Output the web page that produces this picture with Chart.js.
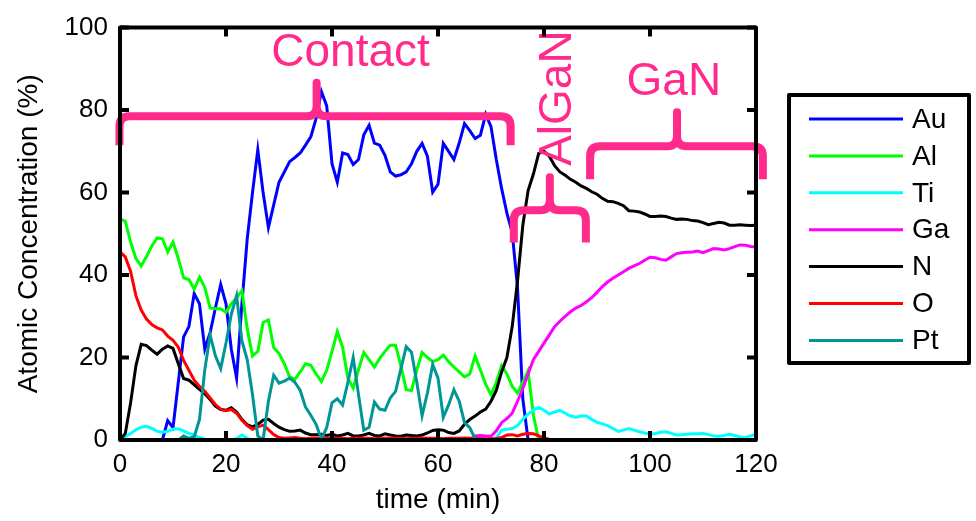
<!DOCTYPE html>
<html><head><meta charset="utf-8">
<script src="https://cdn.jsdelivr.net/npm/chart.js@4"></script>
<style>html,body{margin:0;padding:0;background:#fff;}#wrap{width:976px;height:521px;position:relative;}</style>
</head><body><div id="wrap"><canvas id="c"></canvas></div>
<script>
const time = Array.from({length:121},(_,i)=>i);
const xTicks = [0,20,40,60,80,100,120];
const yTicks = [0,20,40,60,80,100];
const seriesNames = ['Au','Al','Ti','Ga','N','O','Pt'];
const seriesColors = ['#0000ff','#00ff00','#00ffff','#ff00ff','#000000','#ff0000','#009696'];

const Au = [0,0,0,0,0,0,0,0,0,4.7, 3,14,25,27.5,35.5,33,22,26,32,37.7, 33,22,15,33,48.7,60,70.4,60,51.5,57,
 62.5,65,67.5,68.5,69.6,71.5,73.5,78,84.5,81, 67,62.5,69.6,69.2,66.8,68,74,76.3,72,71.5,
 69,65,64,64.3,65,67,70,71.9,68.8,60.1, 62,71.9,70,68,72,76.7,75,73.1,73.9,79,
 76,68,61,55,50.3,37,10,0,0,0, 0,0,0,0,0,0,0,0,0,0, 0,0,0,0,0,0,0,0,0,0, 0,0,0,0,0,0,0,0,0,0, 0,0,0,0,0,0,0,0,0,0, 0];
const Al = [53.6,53,48,44,42.2,44.5,47,49,48.8,45.6, 48,44,39.3,38.9,36.6,39.5,37,32,31.8,31.8,
 31,33,34.5,36.2,27,20.4,21.5,28.5,29.1,22.4, 21,18.5,15.3,14.7,16.5,18.5,18.1,16,14.2,16.9,
 21.5,26.3,22.5,15,12.6,17,21.2,19.5,17.7,19.8, 21.5,23,23,18,12.2,12,17,21.2,20,19,
 19.5,20.6,19,17.7,16.5,15.3,16,20.4,17,13.5, 11,14,18,16,13,11.4,14,16.8,6,0,
 0,0,0,0,0,0,0,0,0,0, 0,0,0,0,0,0,0,0,0,0, 0,0,0,0,0,0,0,0,0,0, 0,0,0,0,0,0,0,0,0,0, 0];
const Ti = [0,0.8,1.6,2.5,3.1,3.3,2.8,2.1,1.9,2.1, 2.6,2.7,2.2,1.6,1.2,0.6,0.2,0,0,0,
 0,0,0.3,1.2,0.4,0,0,0,0,0, 0,0,0,0,0,0,0,0,0,0, 0,0,0,0,0,0,0,0,0,0, 0,0,0,0,0,0,0,0,0,0,
 0,0,0,0,0,0,0,0,0,0, 0,0.5,2.4,2.6,2.8,3.5,5,6.3,7.3,7.9, 7.2,6.3,6.8,7.2,6.5,5.8,5.5,5.8,5.8,5,
 4.3,3.9,3.5,2.8,2.1,2.4,2.8,2.4,2,1.7, 1.4,1.6,1.9,2,1.6,1.2,1.3,1.4,1.5,1.5,
 1.6,1.3,1,0.9,1.1,1.4,1.1,0.7,0.6,1, 1.4];
const Ga = [0,0,0,0,0,0,0,0,0,0, 0,0,0,0,0,0,0,0,0,0, 0,0,0,0,0,0,0,0,0,0, 0,0,0,0,0,0,0,0,0,0,
 0,0,0,0,0,0,0,0,0,0, 0,0,0,0,0,0,0,0,0,0, 0,0,0,0,0,0,0,1,1.1,1,
 0.9,2.2,4.2,5.2,6.5,9.4,12.5,16,19.5,21.5, 23.5,25.5,27.5,28.8,30,31.1,32,32.6,33.5,34.5,
 35.8,37.2,38.3,39.2,40,40.8,41.6,42.2,42.8,43.6, 44.3,44.2,43.8,43.6,44.4,45.2,45.4,45.5,45.6,45.8,
 45.4,45.9,46.4,46.3,46.1,46.4,46.9,47.3,47.2,46.9, 46.8];
const N = [0,1.6,9,18,23.2,22.9,21.8,20.8,22,22.8, 22.2,18.5,14.9,14.5,13.4,12.3,11.2,9.8,8.2,7.4,
 7.2,7.8,6.8,5,3.7,3.2,3.8,4.8,5,4, 3.1,2.5,2.1,2.2,2.4,1.7,1.3,1.3,1.4,1.1,
 1.4,1,1.2,1.6,1,1,1.2,1.6,1.1,1, 1.5,1.2,1,0.9,1.2,1.1,1,1.2,1.7,2.3,
 2.5,2.4,1.8,1.6,2.2,3.8,5,5.8,6.8,7.5, 9.4,12,16.5,20,27.5,38.5,52,60.5,64.5,69.5,
 70,68.8,66.5,65,64.2,63.2,62.5,61.6,61,60.2, 59.6,58.6,57.9,57.8,57.4,56.8,55.6,55.5,55.3,54.8,
 54.2,54.2,54.3,54.2,53.8,53.5,53.6,53.5,53.2,53.1, 52.7,52.2,52.5,52.8,52.6,52.1,52.1,52.2,52.1,52, 52.1];
const O = [45.6,44.4,40.9,35,31.5,29.3,28,27.2,26.7,25.2, 24.2,22.5,19.3,16.9,14.5,13,11.8,10.2,8.6,7.5,
 7.1,7.4,6.5,4.8,3.5,2.6,3.2,3.6,2.5,1.3, 0.6,0.4,0.5,0.6,0.4,0.3,0.4,0.5,0.4,0.4,
 0.5,0.4,0.4,0.3,0.4,0.5,0.4,0.4,0.3,0.4, 0.4,0.5,0.4,0.4,0.3,0.4,0.4,0.5,0.4,0.4,
 0.4,0.3,0.4,0.4,0.4,0.5,0.4,0.4,0.3,0.3, 0.3,0.3,0.6,1.2,1.3,1,1.4,1.6,1.5,1,
 0.5,0.2,0,0,0,0,0,0,0,0, 0,0,0,0,0,0,0,0,0,0, 0,0,0,0,0,0,0,0,0,0, 0,0,0,0,0,0,0,0,0,0, 0];
const Pt = [0,0,0,0,0,0,0,0,0,0, 0,0,1,0.4,0.8,5,17,25.5,20.4,17.3, 23.5,30.5,35,24,19.5,11,1,0,9.4,15.7,
 13.8,14.3,15,14,12,8,6,3.8,0.2,3, 9,10,8.5,14,20,11,2.4,3.1,9.2,7.5,
 7.2,10.2,11.8,17.3,22.6,21.3,14,5.9,11.4,18.3, 15,5.5,8.5,12.2,9.4,4.2,3,0.3,0,0,
 0,0,0,0,0,0,0,0,0,0, 0,0,0,0,0,0,0,0,0,0, 0,0,0,0,0,0,0,0,0,0, 0,0,0,0,0,0,0,0,0,0, 0,0,0,0,0,0,0,0,0,0, 0];
const seriesValues = [Au,Al,Ti,Ga,N,O,Pt];

// annotation labels
const layerLabels = ['Contact','AlGaN','GaN'];

const PINK = '#ff2a8c';
const FONT = "'Liberation Sans', Arial, Helvetica, sans-serif";

const datasets = seriesNames.map((name,i)=>({
  label:name,
  data: time.map((t,j)=>({x:t,y:seriesValues[i][j]})),
  borderColor: seriesColors[i],
  backgroundColor: seriesColors[i],
  borderWidth: 3,
  pointRadius: 0,
  tension: 0,
  fill: false,
  order: seriesNames.length - i
}));

const framePlugin = {
  id:'frame',
  afterDatasetsDraw(chart){
    const ctx = chart.ctx, xs = chart.scales.x, ys = chart.scales.y;
    const X = v=>xs.getPixelForValue(v), Y = v=>ys.getPixelForValue(v);
    ctx.save();
    function brace(x0,x1,xm,yH,yEnd,yPeak){
      const r = 10;
      const px0=X(x0), px1=X(x1), pxm=X(xm), pyH=Y(yH), pyE=Y(yEnd), pyP=Y(yPeak);
      ctx.beginPath();
      ctx.moveTo(px0,pyE);
      ctx.lineTo(px0,pyH+r);
      ctx.quadraticCurveTo(px0,pyH,px0+r,pyH);
      ctx.lineTo(pxm-r,pyH);
      ctx.quadraticCurveTo(pxm,pyH,pxm,pyH-r);
      ctx.lineTo(pxm,pyP);
      ctx.lineTo(pxm,pyH-r);
      ctx.quadraticCurveTo(pxm,pyH,pxm+r,pyH);
      ctx.lineTo(px1-r,pyH);
      ctx.quadraticCurveTo(px1,pyH,px1,pyH+r);
      ctx.lineTo(px1,pyE);
      ctx.stroke();
    }
    ctx.strokeStyle = PINK; ctx.lineWidth = 8; ctx.lineJoin='round'; ctx.lineCap='butt';
    brace(-0.1,73.7,37.1,78.5,71.5,86.6);
    brace(74.3,87.9,81.1,55.7,47.9,63.7);
    brace(88.7,121.3,105.1,71.2,63.2,79.5);
    ctx.fillStyle = PINK; ctx.font = '46px '+FONT; ctx.textBaseline='alphabetic'; ctx.textAlign='center';
    ctx.fillText(layerLabels[0], X(43.5), Y(90.8));
    ctx.fillText(layerLabels[2], X(104.5), Y(83.7));
    ctx.save();
    ctx.translate(X(85.1), Y(82.9));
    ctx.rotate(-Math.PI/2);
    ctx.fillText(layerLabels[1],0,0);
    ctx.restore();

    const a = chart.chartArea;
    ctx.strokeStyle='#000'; ctx.lineWidth=4; ctx.lineCap='butt';
    ctx.strokeRect(a.left,a.top,a.right-a.left,a.bottom-a.top);
    const tl = 9;
    ctx.beginPath();
    xTicks.forEach(v=>{const p=X(v); ctx.moveTo(p,a.bottom); ctx.lineTo(p,a.bottom-tl); ctx.moveTo(p,a.top); ctx.lineTo(p,a.top+tl);});
    yTicks.forEach(v=>{const p=Y(v); ctx.moveTo(a.left,p); ctx.lineTo(a.left+tl,p); ctx.moveTo(a.right,p); ctx.lineTo(a.right-tl,p);});
    ctx.stroke();

    const bx=789, by=95, bw=180, bh=268;
    ctx.fillStyle='#fff'; ctx.fillRect(bx,by,bw,bh);
    ctx.lineWidth=4; ctx.strokeStyle='#000'; ctx.strokeRect(bx,by,bw,bh);
    ctx.font='28px '+FONT; ctx.textAlign='left'; ctx.textBaseline='middle';
    chart.data.datasets.forEach((ds,i)=>{
      const y = 119 + i*36.9;
      ctx.strokeStyle = ds.borderColor; ctx.lineWidth=3;
      ctx.beginPath(); ctx.moveTo(809,y); ctx.lineTo(903,y); ctx.stroke();
      ctx.fillStyle='#000'; ctx.fillText(ds.label, 912, y+1);
    });
    ctx.restore();
  }
};

new Chart(document.getElementById('c'),{
  type:'line',
  data:{datasets},
  options:{
    responsive:true, maintainAspectRatio:false, animation:false,
    layout:{padding:{left:0,right:220,top:16,bottom:0}},
    plugins:{legend:{display:false},tooltip:{enabled:false}},
    scales:{
      x:{type:'linear',min:0,max:120,
        afterBuildTicks(s){s.ticks = xTicks.map(v=>({value:v}));},
        afterFit(s){s.height=81;},
        grid:{display:false,drawTicks:false},border:{display:false},
        ticks:{color:'#000',font:{family:FONT,size:26},padding:9,maxRotation:0,autoSkip:false},
        title:{display:true,text:'time (min)',color:'#000',font:{family:FONT,size:28},padding:{top:0,bottom:4}}
      },
      y:{type:'linear',min:0,max:100,
        afterBuildTicks(s){s.ticks = yTicks.map(v=>({value:v}));},
        afterFit(s){s.width=120;},
        grid:{display:false,drawTicks:false},border:{display:false},
        ticks:{color:'#000',font:{family:FONT,size:26},padding:12,autoSkip:false},
        title:{display:true,text:'Atomic Concentration (%)',color:'#000',font:{family:FONT,size:28},padding:{top:12,bottom:0}}
      }
    }
  },
  plugins:[framePlugin]
});
</script></body></html>
